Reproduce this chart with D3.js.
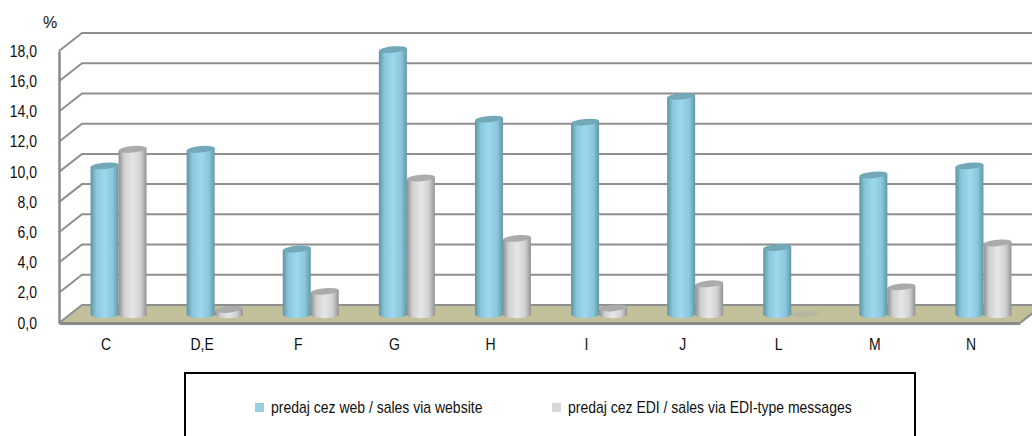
<!DOCTYPE html>
<html>
<head>
<meta charset="utf-8">
<script src="https://cdn.jsdelivr.net/npm/d3@7"></script>
<style>
    html, body { margin: 0; padding: 0; background: #fff; overflow: hidden; }
    text { font-family: "Liberation Sans", Arial, sans-serif; fill: #111; }
</style>
</head>
<body>
<div id="chart"></div>
<script>
var categories = ["C", "D,E", "F", "G", "H", "I", "J", "L", "M", "N"];
var webValues = [9.8, 10.9, 4.3, 17.5, 12.9, 12.7, 14.4, 4.4, 9.2, 9.8];
var ediValues = [10.9, 0.3, 1.5, 9.0, 5.0, 0.4, 2.0, 0, 1.8, 4.7];
var yTicks = [0, 2, 4, 6, 8, 10, 12, 14, 16, 18];
var seriesNames = ["predaj cez web / sales via website", "predaj cez EDI / sales via EDI-type messages"];

var svg = d3.select("#chart").append("svg")
    .attr("width", 1032)
    .attr("height", 436)
    .style("display", "block");

//scale, on the front plane of the 3d box
var x = d3.scaleBand().domain(categories).range([59, 1020]);
var y = d3.scaleLinear().domain([0, 18]).range([323, 51]);
var series = d3.scaleBand().domain([0, 1]).range([-28, 28]);

// depth of the box
var depthX = 23, depthY = -18;
var barDepthX = depthX / 2, barDepthY = depthY / 2;

// the reference text is tall and narrow
var squeeze = 0.875;

var defs = svg.append("defs");

function addGradient(id, edge, mid, centre) {
    var g = defs.append("linearGradient").attr("id", id)
        .attr("x1", 0).attr("x2", 1).attr("y1", 0).attr("y2", 0);
    g.append("stop").attr("offset", "0%").attr("stop-color", edge);
    g.append("stop").attr("offset", "20%").attr("stop-color", mid);
    g.append("stop").attr("offset", "50%").attr("stop-color", centre);
    g.append("stop").attr("offset", "78%").attr("stop-color", mid);
    g.append("stop").attr("offset", "100%").attr("stop-color", edge);
}
addGradient("webFill", "#5e94a4", "#8ac7da", "#9cd9ee");
addGradient("ediFill", "#8e8e8e", "#d0d0d0", "#e6e6e6");

//floor
svg.append("path")
    .attr("d", "M" + x.range()[0] + "," + y(0)
        + "L" + (x.range()[0] + depthX) + "," + (y(0) + depthY)
        + "L" + (x.range()[1] + depthX) + "," + (y(0) + depthY)
        + "L" + x.range()[1] + "," + y(0) + "Z")
    .attr("fill", "#c2c09a");

//grid on the wall
var grid = svg.append("g");
yTicks.forEach(function (t) {
    grid.append("path")
        .attr("d", "M" + x.range()[0] + "," + y(t)
            + "L" + (x.range()[0] + depthX) + "," + (y(t) + depthY)
            + "L" + (x.range()[1] + depthX) + "," + (y(t) + depthY))
        .attr("fill", "none")
        .attr("stroke", "#8f8f8f")
        .attr("stroke-width", 2);
});

//y-axis
var yAxisCall = d3.axisLeft(y)
    .tickValues(yTicks)
    .tickSize(0)
    .tickFormat(function (d) { return d3.format(".1f")(d).replace(".", ","); });
var yAxis = svg.append("g")
    .attr("class", "y-axis")
    .attr("transform", "translate(" + x.range()[0] + ",0)")
    .call(yAxisCall);
yAxis.select(".domain").attr("stroke", "#8a8a8a").attr("stroke-width", 2.5);
yAxis.selectAll("text")
    .style("font-size", "16px")
    .attr("x", -22 / squeeze)
    .attr("transform", "scale(" + squeeze + ",1)");

//x-axis
var xAxisCall = d3.axisBottom(x).tickSize(0).tickPadding(16);
var xAxis = svg.append("g")
    .attr("class", "x-axis")
    .attr("transform", "translate(0," + y(0) + ")")
    .call(xAxisCall);
xAxis.select(".domain").attr("stroke", "#8a8a8a").attr("stroke-width", 3);
xAxis.selectAll("text")
    .style("font-size", "16px")
    .attr("x", -1 / squeeze)
    .attr("transform", "scale(" + squeeze + ",1)");

// right side of the floor
svg.append("line")
    .attr("x1", x.range()[1]).attr("y1", y(0))
    .attr("x2", x.range()[1] + depthX).attr("y2", y(0) + depthY)
    .attr("stroke", "#8a8a8a").attr("stroke-width", 2);

svg.append("text").attr("x", 43).attr("y", 28).style("font-size", "16px").text("%");

//cylinders
var rx = 14, ry = 3.2, tilt = -5;

function drawBars(values, s, fillId, topColor) {
    var bars = svg.append("g").selectAll("g")
        .data(values)
        .enter()
        .append("g")
        .attr("transform", function (d, i) {
            var cx = x(categories[i]) + x.bandwidth() / 2 + series(s) + series.bandwidth() / 2 + barDepthX;
            return "translate(" + cx + "," + (y(0) + barDepthY) + ")";
        });

    bars.append("path")
        .attr("d", function (d) {
            var h = y(0) - y(d);
            return "M" + (-rx) + "," + (-h + 1.2)
                + "L" + (-rx) + ",1"
                + "A" + rx + "," + (ry + 0.8) + " 0 0 0 " + rx + ",-1"
                + "L" + rx + "," + (-h - 1.2) + "Z";
        })
        .attr("fill", "url(#" + fillId + ")")
        .style("opacity", function (d) { return d === 0 ? 0 : 1; });

    bars.append("ellipse")
        .attr("cx", 0)
        .attr("cy", function (d) { return y(d) - y(0); })
        .attr("rx", rx)
        .attr("ry", ry)
        .attr("transform", function (d) { return "rotate(" + tilt + " 0 " + (y(d) - y(0)) + ")"; })
        .attr("fill", topColor)
        .style("opacity", function (d) { return d === 0 ? 0.45 : 1; });
}

drawBars(webValues, 0, "webFill", "#72a8b8");
drawBars(ediValues, 1, "ediFill", "#ababab");

//legend
svg.append("rect")
    .attr("x", 185).attr("y", 373)
    .attr("width", 730).attr("height", 80)
    .attr("fill", "none")
    .attr("stroke", "#000")
    .attr("stroke-width", 2);

var legendX = [255, 552];
var legendColors = ["#98cfe0", "#d8d8d8"];
seriesNames.forEach(function (name, i) {
    svg.append("rect")
        .attr("x", legendX[i]).attr("y", 403)
        .attr("width", 9).attr("height", 9)
        .attr("fill", legendColors[i]);
    svg.append("text")
        .attr("x", (legendX[i] + 16) / squeeze).attr("y", 413)
        .attr("transform", "scale(" + squeeze + ",1)")
        .style("font-size", "16px")
        .text(name);
});
</script>
</body>
</html>
